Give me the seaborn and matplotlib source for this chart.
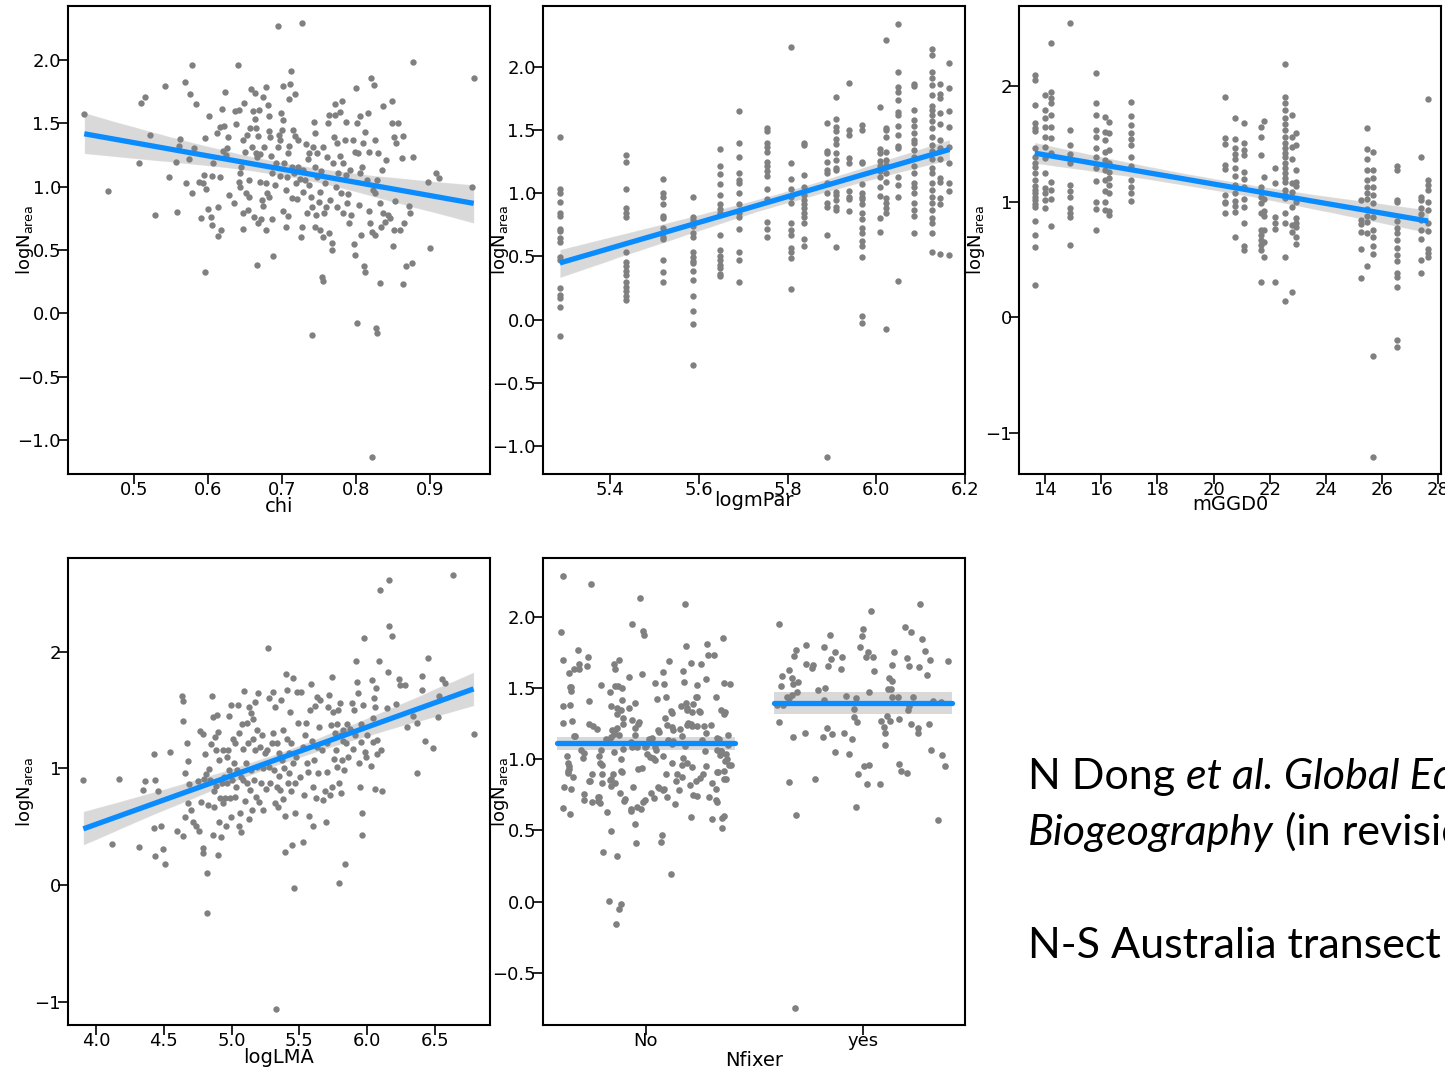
import numpy as np
import pandas as pd
import matplotlib
matplotlib.use("Agg")
import matplotlib.pyplot as plt
from matplotlib.ticker import FuncFormatter
import seaborn as sns

# ---------------- data ----------------
# Panel 1: logNarea vs chi
chi_pts = [
(0.433,1.571),(0.465,0.966),(0.507,1.184),(0.509,1.658),(0.515,1.711),(0.522,1.408),(0.529,0.779),
(0.542,1.797),(0.548,1.074),(0.557,1.192),(0.558,0.797),(0.562,1.374),(0.561,1.321),(0.569,1.824),
(0.571,1.026),(0.576,1.729),(0.579,1.961),(0.578,0.953),(0.574,1.218),(0.581,1.303),(0.584,1.653),
(0.588,1.039),(0.590,0.750),(0.594,1.032),(0.596,1.387),(0.596,0.324),(0.597,0.982),(0.595,1.092),
(0.600,0.824),(0.602,1.555),(0.604,0.761),(0.605,0.697),(0.607,1.184),(0.606,1.084),(0.612,1.421),
(0.613,0.611),(0.614,0.842),(0.616,1.079),(0.617,0.658),(0.616,1.474),(0.619,1.611),(0.620,1.284),
(0.623,1.745),(0.622,1.479),(0.624,1.250),(0.626,1.305),(0.627,1.395),(0.629,0.934),(0.635,0.874),
(0.636,1.600),(0.638,1.495),(0.640,1.963),(0.642,1.605),(0.642,1.039),(0.643,1.105),(0.643,1.000),
(0.645,1.158),(0.647,1.368),(0.648,0.666),(0.647,0.795),(0.649,1.658),(0.650,1.276),(0.652,0.947),
(0.653,1.408),(0.654,0.816),(0.655,1.053),(0.656,0.921),(0.657,1.466),(0.658,1.768),(0.659,1.311),
(0.661,1.600),(0.662,0.763),(0.663,1.532),(0.664,1.737),(0.665,1.263),(0.665,1.466),(0.666,1.237),
(0.666,0.379),(0.668,1.403),(0.668,0.713),(0.669,1.605),(0.670,1.039),(0.671,1.258),(0.672,0.742),
(0.673,0.895),(0.674,0.847),(0.675,1.711),(0.676,1.311),(0.678,1.032),(0.678,0.658),(0.679,1.784),
(0.680,0.947),(0.681,1.645),(0.682,1.440),(0.683,0.916),(0.683,1.558),(0.684,1.395),(0.685,1.242),
(0.686,0.742),(0.687,1.105),(0.688,0.453),(0.690,1.013),(0.692,1.184),(0.694,1.316),(0.695,2.268),
(0.696,1.408),(0.697,1.368),(0.698,1.084),(0.699,1.579),(0.700,1.447),(0.701,1.795),(0.702,1.526),
(0.702,0.811),(0.703,1.184),(0.705,0.679),(0.706,0.976),(0.707,1.079),(0.708,1.263),(0.708,0.768),
(0.709,1.695),(0.710,1.321),(0.712,1.913),(0.711,1.808),(0.713,0.908),(0.714,1.158),(0.715,1.447),
(0.716,1.105),(0.717,1.729),(0.718,1.400),(0.719,1.032),(0.720,0.900),(0.721,1.158),(0.722,1.368),
(0.724,1.058),(0.726,0.605),(0.727,2.295),(0.727,0.684),(0.728,0.961),(0.729,1.132),(0.731,1.053),
(0.733,1.337),(0.734,0.789),(0.735,1.221),(0.736,1.013),(0.737,1.263),(0.739,0.921),(0.740,-0.174),
(0.741,0.842),(0.742,1.316),(0.743,1.513),(0.744,1.421),(0.745,0.684),(0.745,1.158),(0.746,0.776),
(0.747,1.079),(0.748,1.263),(0.750,0.882),(0.751,0.658),(0.752,0.961),(0.753,1.126),(0.754,0.289),
(0.755,0.258),(0.755,0.605),(0.756,1.316),(0.757,0.789),(0.758,1.026),(0.760,0.842),(0.761,1.237),
(0.762,1.500),(0.763,1.566),(0.764,0.632),(0.765,0.895),(0.767,0.553),(0.768,0.500),(0.769,1.184),
(0.770,1.395),(0.771,1.653),(0.772,1.566),(0.773,1.000),(0.774,1.342),(0.775,0.842),(0.776,1.105),
(0.778,1.592),(0.779,1.242),(0.780,0.947),(0.781,1.679),(0.782,0.789),(0.783,1.184),(0.785,1.368),
(0.786,1.513),(0.787,1.092),(0.788,0.868),(0.789,0.942),(0.791,0.713),(0.792,1.132),(0.793,0.776),
(0.796,1.368),(0.797,0.547),(0.798,1.276),(0.799,0.461),(0.800,1.782),(0.801,-0.074),(0.802,1.500),
(0.803,1.263),(0.804,0.855),(0.805,1.558),(0.806,1.105),(0.807,0.618),(0.808,1.158),(0.809,1.342),
(0.811,0.374),(0.812,1.434),(0.812,0.329),(0.815,1.053),(0.816,1.579),(0.817,0.811),(0.817,1.276),
(0.819,0.711),(0.820,1.855),(0.821,-1.132),(0.822,0.645),(0.823,0.974),(0.824,1.803),(0.825,1.368),
(0.826,0.618),(0.826,0.947),(0.827,-0.118),(0.828,-0.158),(0.829,1.053),(0.830,1.263),(0.832,0.237),
(0.833,0.868),(0.834,0.684),(0.835,1.132),(0.836,1.637),(0.837,0.789),(0.839,0.724),(0.841,1.211),
(0.843,0.776),(0.846,0.750),(0.848,1.500),(0.849,1.676),(0.850,0.532),(0.851,0.658),(0.852,1.389),
(0.853,0.884),(0.854,1.342),(0.857,1.500),(0.860,0.658),(0.862,1.229),(0.864,1.400),(0.864,0.232),
(0.865,0.711),(0.867,0.374),(0.871,0.847),(0.873,0.789),(0.875,0.395),(0.877,1.982),(0.877,1.232),
(0.897,1.037),(0.900,0.513),(0.908,1.105),(0.912,1.066),(0.957,0.995),(0.959,1.855),
]

# Panel 2: logNarea vs logmPar (values grouped by site)
par_levels = [5.287, 5.436, 5.519, 5.587, 5.648, 5.690, 5.753, 5.808, 5.838, 5.890,
              5.909, 5.938, 5.969, 6.009, 6.023, 6.049, 6.084, 6.125, 6.144, 6.165]
par_values = [
[1.447,1.032,1.0,0.934,0.842,0.821,0.716,0.703,0.645,0.611,0.495,0.474,0.25,0.197,0.171,0.1,-0.132],
[1.303,1.25,1.037,0.882,0.842,0.816,0.539,0.453,0.421,0.389,0.355,0.295,0.258,0.224,0.189,0.158],
[1.113,1.005,0.974,0.916,0.821,0.803,0.724,0.697,0.653,0.637,0.474,0.374,0.295],
[0.974,0.816,0.789,0.742,0.684,0.653,0.539,0.495,0.468,0.447,0.389,0.316,0.189,0.066,-0.032,-0.363],
[1.35,1.218,1.15,1.074,0.987,0.916,0.874,0.842,0.671,0.553,0.505,0.474,0.434,0.408,0.363,0.342],
[1.65,1.395,1.289,1.163,1.105,1.084,1.005,0.916,0.842,0.816,0.721,0.539,0.474,0.295],
[1.521,1.495,1.395,1.368,1.329,1.247,1.216,1.176,1.137,1.032,0.953,0.776,0.716,0.658],
[2.158,1.242,1.111,1.032,0.974,0.921,0.763,0.711,0.671,0.566,0.532,0.487,0.245],
[1.395,1.382,1.145,1.053,0.987,0.947,0.916,0.882,0.842,0.816,0.768,0.637,0.584],
[1.558,1.337,1.321,1.25,1.184,1.158,1.079,1.005,0.926,0.889,0.671,-1.084],
[1.763,1.589,1.526,1.495,1.434,1.389,1.316,1.263,1.197,1.184,1.013,0.987,0.947,0.889,0.868,0.574],
[1.874,1.505,1.463,1.276,1.242,1.021,0.974,0.958,0.863],
[1.539,1.5,1.25,1.237,1.074,1.005,0.974,0.953,0.916,0.842,0.795,0.724,0.684,0.626,0.584,0.495,0.032,-0.026],
[1.684,1.347,1.321,1.258,1.216,1.179,1.132,1.053,0.979,0.803,0.697],
[2.216,1.521,1.5,1.442,1.329,1.263,1.224,1.158,1.092,0.961,0.921,0.882,0.847,-0.074],
[2.342,1.961,1.842,1.803,1.742,1.645,1.618,1.532,1.461,1.374,1.355,1.132,1.066,0.974,0.303],
[1.868,1.847,1.663,1.584,1.532,1.479,1.421,1.395,1.342,1.284,1.216,1.158,1.084,1.053,1.005,0.921,0.868,0.821,0.689],
[2.145,2.092,1.961,1.916,1.855,1.776,1.689,1.658,1.618,1.574,1.521,1.442,1.382,1.337,1.268,1.197,1.158,
 1.084,1.026,0.968,0.926,0.868,0.803,0.768,0.684,0.532],
[1.868,1.789,1.758,1.632,1.547,1.426,1.355,1.268,1.118,1.092,0.961,0.916,0.521],
[2.032,1.832,1.653,1.526,1.368,1.237,1.079,1.021,0.513],
]

# Panel 3: logNarea vs mGGD0 (values grouped by site)
ggd_levels = [13.63, 14.0, 14.2, 14.87, 15.81, 16.15, 16.27, 17.07, 20.40, 20.78, 21.08, 21.70,
              21.80, 22.20, 22.54, 22.80, 22.92, 25.26, 25.46, 25.68, 26.53, 27.37, 27.64]
ggd_values = [
[2.092,2.049,1.833,1.681,1.632,1.612,1.460,1.388,1.330,1.302,1.244,1.187,1.135,1.101,1.072,1.043,1.014,
 0.980,0.957,0.836,0.713,0.612,0.282],
[1.920,1.790,1.718,1.641,1.560,1.474,1.374,1.244,1.115,1.072,1.014,0.943],
[2.365,1.948,1.891,1.853,1.747,1.647,1.546,1.417,1.172,1.101,1.020,0.790],
[2.537,1.618,1.489,1.411,1.330,1.144,1.095,1.043,0.943,0.899,0.871,0.626],
[2.106,1.853,1.747,1.618,1.560,1.460,1.388,1.287,1.178,1.0,0.934,0.756],
[1.727,1.603,1.532,1.431,1.359,1.273,1.187,1.095,0.994,0.928],
[1.690,1.589,1.445,1.336,1.259,1.201,1.144,1.072,0.922,0.885],
[1.862,1.739,1.661,1.589,1.537,1.489,1.382,1.307,1.187,1.129,1.072,1.009],
[1.905,1.546,1.497,1.316,1.279,1.057,1.0,0.986,0.899],
[1.718,1.537,1.460,1.411,1.365,1.287,1.221,1.144,1.072,1.009,0.963,0.914,0.693],
[1.675,1.503,1.445,1.402,1.259,1.193,1.129,1.020,0.957,0.819,0.618,0.583],
[1.647,1.560,1.402,1.129,1.086,1.043,0.991,0.899,0.756,0.713,0.670,0.626,0.578,0.302],
[1.698,1.216,1.020,0.922,0.876,0.756,0.655,0.520],
[1.293,1.164,0.865,0.819,0.761,0.310],
[2.184,1.899,1.848,1.790,1.718,1.670,1.618,1.560,1.503,1.460,1.422,1.388,1.330,1.287,1.244,1.201,1.172,
 1.101,1.057,1.029,0.899,0.819,0.526,0.138],
[1.747,1.560,1.474,1.365,1.164,1.086,0.957,0.799,0.741,0.224],
[1.595,1.489,1.273,1.172,1.135,1.0,0.856,0.819,0.784,0.693,0.635],
[1.014,0.842,0.807,0.741,0.589,0.339],
[1.632,1.451,1.365,1.273,1.187,1.124,1.078,1.020,0.934,0.876,0.828,0.727,0.440],
[1.431,1.273,1.201,1.124,1.057,0.986,0.871,0.756,0.698,0.618,0.549,-0.330,-1.204],
[1.307,1.273,1.014,1.0,0.836,0.770,0.727,0.670,0.598,0.540,0.491,0.388,0.348,0.261,-0.198,-0.256],
[1.382,1.043,1.014,0.943,0.894,0.842,0.756,0.675,0.497,0.388],
[1.885,1.187,1.144,1.101,1.0,0.928,0.813,0.750,0.589,0.555,0.520],
]

# Panel 4: logNarea vs logLMA
lma_pts = [
(3.907,0.900),(4.118,0.351),(4.172,0.911),(4.315,0.323),(4.344,0.814),(4.359,0.894),(4.428,1.123),
(4.428,0.486),(4.433,0.249),(4.438,0.900),(4.457,0.803),(4.482,0.506),(4.492,0.311),(4.511,0.177),
(4.546,1.140),(4.600,0.466),(4.632,1.620),(4.639,0.420),(4.642,1.406),(4.644,1.580),(4.656,0.957),
(4.656,0.586),(4.669,1.220),(4.681,1.066),(4.681,0.700),(4.688,0.866),(4.698,0.643),(4.713,0.543),
(4.737,0.506),(4.752,0.894),(4.762,0.466),(4.767,1.323),(4.777,0.711),(4.787,1.294),(4.787,0.320),
(4.792,0.277),(4.796,0.906),(4.801,1.123),(4.811,0.951),(4.821,0.106),(4.821,-0.243),(4.826,0.686),
(4.836,0.991),(4.840,0.900),(4.850,1.209),(4.855,1.620),(4.860,0.429),(4.865,1.437),(4.869,0.809),
(4.874,0.671),(4.879,1.266),(4.884,1.157),(4.889,0.849),(4.894,1.457),(4.902,1.311),(4.902,0.257),
(4.905,0.543),(4.910,1.071),(4.914,0.743),(4.919,0.409),(4.927,0.871),(4.934,0.700),(4.939,1.157),
(4.944,0.929),(4.951,0.743),(4.959,0.506),(4.963,1.100),(4.968,0.871),(4.976,1.157),(4.978,1.449),
(4.983,0.986),(4.988,0.743),(4.993,0.580),(4.998,1.543),(5.003,0.900),(5.013,1.249),(5.018,1.043),
(5.023,0.757),(5.028,1.214),(5.033,0.843),(5.038,0.986),(5.048,1.543),(5.052,0.506),(5.057,1.306),
(5.062,0.614),(5.067,0.929),(5.072,0.457),(5.077,1.380),(5.082,1.163),(5.087,0.900),(5.092,1.663),
(5.099,0.723),(5.104,1.043),(5.111,1.386),(5.116,0.871),(5.121,1.220),(5.126,0.563),(5.131,1.529),
(5.136,0.814),(5.141,1.471),(5.146,0.986),(5.151,0.643),(5.156,1.420),(5.160,1.249),(5.165,0.900),
(5.170,1.571),(5.175,1.157),(5.180,0.751),(5.185,1.329),(5.190,1.014),(5.195,1.643),(5.205,0.714),
(5.209,1.180),(5.214,0.871),(5.224,1.286),(5.229,0.643),(5.234,1.000),(5.244,1.129),(5.254,0.820),
(5.259,1.157),(5.266,2.034),(5.273,1.600),(5.278,1.014),(5.283,0.871),(5.295,1.214),(5.303,1.306),
(5.308,1.657),(5.313,0.986),(5.318,1.529),(5.323,0.700),(5.327,-1.066),(5.332,1.214),(5.337,0.843),
(5.342,0.671),(5.347,1.129),(5.352,0.934),(5.357,0.814),(5.366,1.586),(5.371,1.071),(5.376,0.734),
(5.381,1.329),(5.386,1.000),(5.391,0.591),(5.396,0.286),(5.401,1.809),(5.406,1.671),(5.411,1.249),
(5.416,0.877),(5.421,1.129),(5.426,0.963),(5.431,1.486),(5.435,0.809),(5.440,1.214),(5.445,0.343),
(5.450,1.771),(5.455,1.043),(5.460,-0.029),(5.465,0.614),(5.470,0.871),(5.475,1.100),(5.480,1.657),
(5.492,1.386),(5.504,0.929),(5.514,1.657),(5.524,0.371),(5.529,1.186),(5.534,0.771),(5.543,1.286),
(5.548,1.386),(5.558,1.043),(5.565,0.971),(5.573,0.591),(5.578,1.500),(5.583,1.720),(5.590,1.237),
(5.598,0.506),(5.603,0.843),(5.607,1.071),(5.615,1.534),(5.622,0.743),(5.627,1.614),(5.632,1.186),
(5.640,0.963),(5.647,1.357),(5.652,1.586),(5.664,1.157),(5.676,0.729),(5.689,0.809),(5.696,0.543),
(5.701,0.971),(5.706,1.214),(5.713,1.529),(5.720,1.629),(5.726,0.771),(5.730,1.371),(5.738,0.843),
(5.743,1.780),(5.750,1.486),(5.755,1.077),(5.762,1.306),(5.770,1.157),(5.775,1.380),(5.780,1.014),
(5.785,1.500),(5.790,0.014),(5.795,0.871),(5.799,1.557),(5.804,1.286),(5.809,0.786),(5.814,1.071),
(5.819,1.237),(5.824,1.329),(5.831,0.986),(5.839,0.177),(5.844,1.214),(5.849,1.380),(5.861,1.100),
(5.873,1.334),(5.885,1.557),(5.895,1.163),(5.900,1.500),(5.908,1.286),(5.920,1.923),(5.925,1.737),
(5.932,1.643),(5.939,1.049),(5.944,0.837),(5.952,1.380),(5.957,1.229),(5.962,0.429),(5.964,0.614),
(5.971,1.543),(5.979,2.120),(5.984,1.143),(5.991,1.100),(5.996,1.286),(6.026,1.020),(6.033,1.757),
(6.040,1.229),(6.045,1.429),(6.050,1.606),(6.055,0.820),(6.060,1.529),(6.065,1.686),(6.070,1.243),
(6.075,1.123),(6.090,1.923),(6.094,2.529),(6.099,1.157),(6.109,0.809),(6.144,1.514),(6.156,1.829),
(6.158,2.220),(6.163,2.614),(6.180,2.134),(6.213,1.551),(6.233,1.763),(6.242,1.714),(6.279,1.714),
(6.291,1.357),(6.335,1.449),(6.364,1.386),(6.364,0.957),(6.401,1.791),(6.408,1.671),(6.425,1.234),
(6.450,1.949),(6.489,1.177),(6.521,1.443),(6.530,1.623),(6.550,1.763),(6.571,1.734),(6.635,2.657),
(6.785,1.291),
]

# Panel 5: logNarea by Nfixer
nfix_levels = ["No", "yes"]
nfix_no = [
2.228,2.287,2.131,2.089,1.949,1.897,1.893,1.874,1.851,1.809,1.795,1.769,1.734,1.730,1.718,1.692,1.697,
1.669,1.669,1.655,1.674,1.669,1.699,1.634,1.636,1.632,1.618,1.615,1.608,1.599,1.573,1.564,1.543,1.529,
1.534,1.534,1.529,1.510,1.517,1.517,1.506,1.496,1.506,1.515,1.478,1.471,1.436,1.438,1.434,1.424,1.436,
1.417,1.410,1.396,1.394,1.382,1.375,1.389,1.375,1.371,1.361,1.345,1.357,1.343,1.338,1.331,1.326,1.329,
1.336,1.333,1.359,1.343,1.319,1.319,1.289,1.287,1.261,1.266,1.254,1.245,1.249,1.242,1.254,1.273,1.249,
1.249,1.235,1.235,1.242,1.242,1.226,1.214,1.231,1.231,1.221,1.221,1.205,1.203,1.203,1.193,1.177,1.210,
1.184,1.203,1.172,1.163,1.156,1.161,1.166,1.163,1.166,1.133,1.138,1.128,1.124,1.133,1.149,1.145,1.121,
1.133,1.138,1.138,1.091,1.086,1.093,1.103,1.086,1.086,1.100,1.054,1.056,1.061,1.065,1.068,1.063,1.051,
1.058,1.063,1.084,1.035,1.023,1.042,1.009,1.021,1.009,1.016,1.033,1.005,1.042,1.028,0.986,0.998,1.002,
1.021,0.993,0.972,0.974,0.974,0.970,0.958,0.932,0.951,0.958,0.956,0.951,0.958,0.946,0.928,0.937,0.911,
0.916,0.916,0.897,0.897,0.897,0.918,0.907,0.893,0.900,0.895,0.872,0.862,0.874,0.909,0.865,0.893,0.848,
0.858,0.853,0.846,0.844,0.858,0.848,0.834,0.818,0.834,0.830,0.811,0.802,0.804,0.793,0.795,0.783,0.802,
0.793,0.783,0.793,0.765,0.737,0.765,0.755,0.737,0.741,0.732,0.746,0.716,0.725,0.713,0.732,0.720,0.699,
0.706,0.695,0.697,0.713,0.697,0.706,0.688,0.653,0.618,0.653,0.636,0.667,0.660,0.627,0.601,0.578,0.587,
0.590,0.541,0.517,0.497,0.464,0.420,0.413,0.345,0.317,0.191,0.002,-0.056,-0.014,-0.159,
]
nfix_yes = [
2.086,2.037,1.949,1.930,1.914,1.890,1.865,1.869,1.844,1.802,1.790,1.786,1.758,1.769,1.755,1.753,1.751,
1.727,1.711,1.718,1.716,1.720,1.702,1.697,1.688,1.667,1.660,1.662,1.657,1.648,1.653,1.641,1.627,1.636,
1.620,1.592,1.583,1.571,1.569,1.545,1.538,1.529,1.513,1.494,1.497,1.483,1.490,1.471,1.473,1.452,1.434,
1.434,1.438,1.431,1.441,1.434,1.431,1.413,1.408,1.399,1.378,1.380,1.373,1.352,1.343,1.305,1.294,1.280,
1.268,1.261,1.261,1.245,1.245,1.270,1.228,1.221,1.217,1.186,1.186,1.184,1.177,1.184,1.158,1.142,1.152,
1.100,1.063,1.051,1.030,1.035,0.956,0.953,0.963,0.949,0.902,0.897,0.914,0.860,0.839,0.828,0.823,0.662,
0.606,0.573,-0.750,
]

# ---------------- styling ----------------
W, H = 1445, 1070
BLUE = "#0a8cff"
DOT = "#808080"

sns.set_theme(style="white")
plt.rcParams["font.family"] = ["DejaVu Sans"]
plt.rcParams["mathtext.fontset"] = "dejavusans"

fig = plt.figure(figsize=(W / 100, H / 100), dpi=100)


def fmt(decimals):
    def f(v, pos):
        s = f"{v:.{decimals}f}"
        return s.replace("-", "\u2212")
    return FuncFormatter(f)


def make_ax(left, top, right, bottom):
    return fig.add_axes([left / W, 1 - bottom / H, (right - left) / W, (bottom - top) / H])


def style_ax(ax, xlabel, xlab_y):
    for s in ax.spines.values():
        s.set_visible(True)
        s.set_color("black")
        s.set_linewidth(1.5)
    ax.tick_params(axis="both", direction="out", length=7, width=1.2, color="black",
                   labelsize=13, labelcolor="black", pad=-2,
                   bottom=True, left=True, top=False, right=False)
    ax.set_xlabel(xlabel, fontsize=14, color="black")
    ax.xaxis.set_label_coords(0.5, xlab_y)
    ax.set_ylabel(r"$\mathregular{logN_{area}}$", fontsize=13, color="black")
    ax.yaxis.set_label_coords(-0.076, 0.5)
    ax.grid(False)


def reg_panel(ax, df, xlim, ylim, xticks, yticks, xdec, ydec, xlabel, xlab_y):
    # confidence band (light grey), points, then fitted line
    sns.regplot(data=df, x="x", y="y", ax=ax, scatter=False, color="black",
                line_kws={"lw": 0}, seed=7, truncate=True)
    sns.scatterplot(data=df, x="x", y="y", ax=ax, color=DOT, s=21, linewidth=0, zorder=3)
    sns.regplot(data=df, x="x", y="y", ax=ax, scatter=False, ci=None, color=BLUE,
                line_kws={"lw": 3.8, "zorder": 4, "solid_capstyle": "butt"}, truncate=True)
    ax.set_xlim(*xlim)
    ax.set_ylim(*ylim)
    ax.set_xticks(xticks)
    ax.set_yticks(yticks)
    ax.xaxis.set_major_formatter(fmt(xdec))
    ax.yaxis.set_major_formatter(fmt(ydec))
    style_ax(ax, xlabel, xlab_y)


df_chi = pd.DataFrame(chi_pts, columns=["x", "y"])
df_par = pd.DataFrame({"x": np.repeat(par_levels, [len(v) for v in par_values]),
                       "y": np.concatenate(par_values)})
df_ggd = pd.DataFrame({"x": np.repeat(ggd_levels, [len(v) for v in ggd_values]),
                       "y": np.concatenate(ggd_values)})
df_lma = pd.DataFrame(lma_pts, columns=["x", "y"])

ax1 = make_ax(68, 6, 490, 474)
reg_panel(ax1, df_chi, (0.411, 0.981), (-1.268, 2.426), [0.5, 0.6, 0.7, 0.8, 0.9],
          [-1.0, -0.5, 0.0, 0.5, 1.0, 1.5, 2.0], 1, 1, "chi", -0.050)

ax2 = make_ax(543, 6, 965, 474)
reg_panel(ax2, df_par, (5.249, 6.2), (-1.222, 2.483), [5.4, 5.6, 5.8, 6.0, 6.2],
          [-1.0, -0.5, 0.0, 0.5, 1.0, 1.5, 2.0], 1, 1, "logmPar", -0.036)

ax3 = make_ax(1019, 6, 1441, 474)
reg_panel(ax3, df_ggd, (13.07, 28.1), (-1.351, 2.688), [14, 16, 18, 20, 22, 24, 26, 28],
          [-1, 0, 1, 2], 0, 0, "mGGD0", -0.045)

ax4 = make_ax(68, 558, 490, 1025)
reg_panel(ax4, df_lma, (3.794, 6.906), (-1.2, 2.803), [4.0, 4.5, 5.0, 5.5, 6.0, 6.5],
          [-1, 0, 1, 2], 1, 0, "logLMA", -0.050)

# Panel 5: categorical strip plot with group means
ax5 = make_ax(543, 558, 965, 1025)
df_nf = pd.DataFrame({"Nfixer": ["No"] * len(nfix_no) + ["yes"] * len(nfix_yes),
                      "y": nfix_no + nfix_yes})
np.random.seed(11)
sns.stripplot(data=df_nf, x="Nfixer", y="y", order=nfix_levels, ax=ax5, color=DOT,
              size=4.8, linewidth=0, jitter=0.4, zorder=3)
for i, lev in enumerate(nfix_levels):
    vals = np.asarray(df_nf.loc[df_nf["Nfixer"] == lev, "y"])
    m = vals.mean()
    se = vals.std(ddof=1) / np.sqrt(len(vals))
    ax5.fill_between([i - 0.41, i + 0.41], m - 1.96 * se, m + 1.96 * se,
                     color="#d9d9d9", lw=0, zorder=1)
    ax5.plot([i - 0.41, i + 0.41], [m, m], color=BLUE, lw=3.8, zorder=4)
ax5.set_xlim(-0.475, 1.472)
ax5.set_ylim(-0.867, 2.412)
ax5.set_yticks([-0.5, 0.0, 0.5, 1.0, 1.5, 2.0])
ax5.yaxis.set_major_formatter(fmt(1))
style_ax(ax5, "Nfixer", -0.056)

# ---------------- citation text ----------------
renderer = fig.canvas.get_renderer()


def rich_line(x_px, base_px, parts, size=31):
    x = x_px
    for s, style in parts:
        t = fig.text(x / W, 1 - base_px / H, s, fontsize=size, family="Lato",
                     style=style, va="baseline", ha="left", color="black")
        x += t.get_window_extent(renderer=renderer).width


rich_line(1028, 789, [("N Dong ", "normal"), ("et al. Global Ecology and", "italic")])
rich_line(1028, 845, [("Biogeography", "italic"), (" (in revision)", "normal")])
rich_line(1028, 958, [("N-S Australia transect", "normal")])

fig.savefig("out.png", dpi=100)
